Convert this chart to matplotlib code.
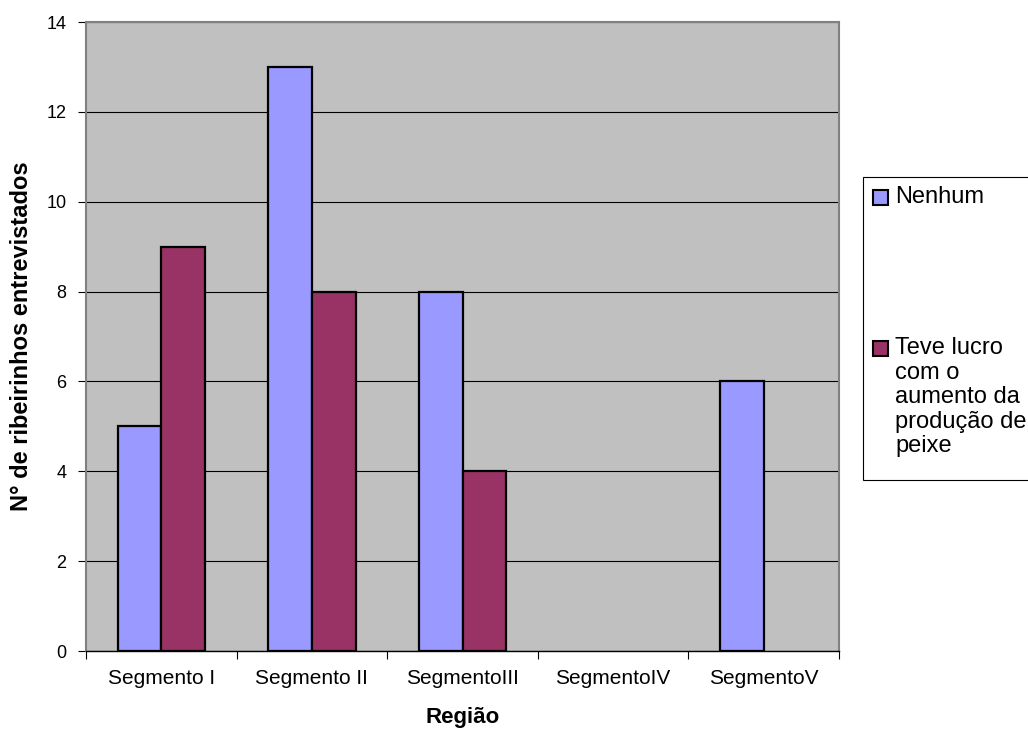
import numpy as np
import matplotlib.pyplot as plt
from matplotlib.patches import Rectangle

plt.rcParams['font.family'] = ['Liberation Sans', 'DejaVu Sans']

regioes = ['Segmento I', 'Segmento II', 'SegmentoIII', 'SegmentoIV', 'SegmentoV']
nenhum = [5, 13, 8, 0, 6]
teve_lucro = [9, 8, 4, 0, 0]
rotulos = ['Nenhum', 'Teve lucro\ncom o\naumento da\nprodução de\npeixe']

cor_azul = '#9999FF'
cor_vinho = '#993366'
cores = [cor_azul, cor_vinho]

W, H = 1028, 733
fig = plt.figure(figsize=(W/100, H/100), dpi=100)
ax = fig.add_axes([86/W, 1 - 651/H, (839 - 86)/W, (651 - 22)/H])
ax.set_facecolor('#C0C0C0')

x = np.arange(len(regioes)) + 0.5
w = 0.29
for serie, desloc, cor in [(nenhum, -w/2, cor_azul), (teve_lucro, w/2, cor_vinho)]:
    v = np.array(serie, dtype=float)
    m = v > 0  # empty categories get no bar outline
    ax.bar(x[m] + desloc, v[m], w, color=cor, edgecolor='black', linewidth=1.6, zorder=3)

ax.set_xlim(0, len(regioes))
ax.set_ylim(0, 14)
ax.set_yticks(range(0, 15, 2))
ax.yaxis.grid(True, color='black', linewidth=0.8, zorder=1)

# ticks at the category boundaries, labels centred under each group
ax.set_xticks(range(len(regioes) + 1))
ax.set_xticklabels([])
ax.set_xticks(x, minor=True)
ax.set_xticklabels(regioes, minor=True)
ax.tick_params(axis='x', which='minor', length=0, pad=13, labelsize=15)
ax.tick_params(axis='x', which='major', length=6, color='black')
ax.tick_params(axis='y', length=6, labelsize=13, pad=8)

for s in ['top', 'right', 'left']:
    ax.spines[s].set_color('#808080')
    ax.spines[s].set_linewidth(1.5)
ax.spines['bottom'].set_color('black')
ax.spines['bottom'].set_linewidth(1)

ax.set_xlabel('Região', fontsize=16, fontweight='bold', labelpad=14)
ax.set_ylabel('N° de ribeirinhos entrevistados', fontsize=17, fontweight='bold', labelpad=10)

# legend box drawn by hand, handle aligned with the first text line
def px(xp, yp):
    return xp / W, 1 - yp / H

x0, y0 = px(863, 177)
x1, y1 = px(1040, 480)
fig.patches.append(Rectangle((x0, y1), x1 - x0, y0 - y1, transform=fig.transFigure,
                             facecolor='white', edgecolor='black', linewidth=0.8))
for i, (rot, cor) in enumerate(zip(rotulos, cores)):
    topo = 186 + i * 151
    hx, hy = px(873, topo + 19)
    fig.patches.append(Rectangle((hx, hy), 15/W, 15/H, transform=fig.transFigure,
                                 facecolor=cor, edgecolor='black', linewidth=1.5))
    tx, ty = px(895, topo)
    fig.text(tx, ty, rot, fontsize=17, va='top', ha='left', linespacing=1.15)

fig.savefig('out.png', dpi=100)
